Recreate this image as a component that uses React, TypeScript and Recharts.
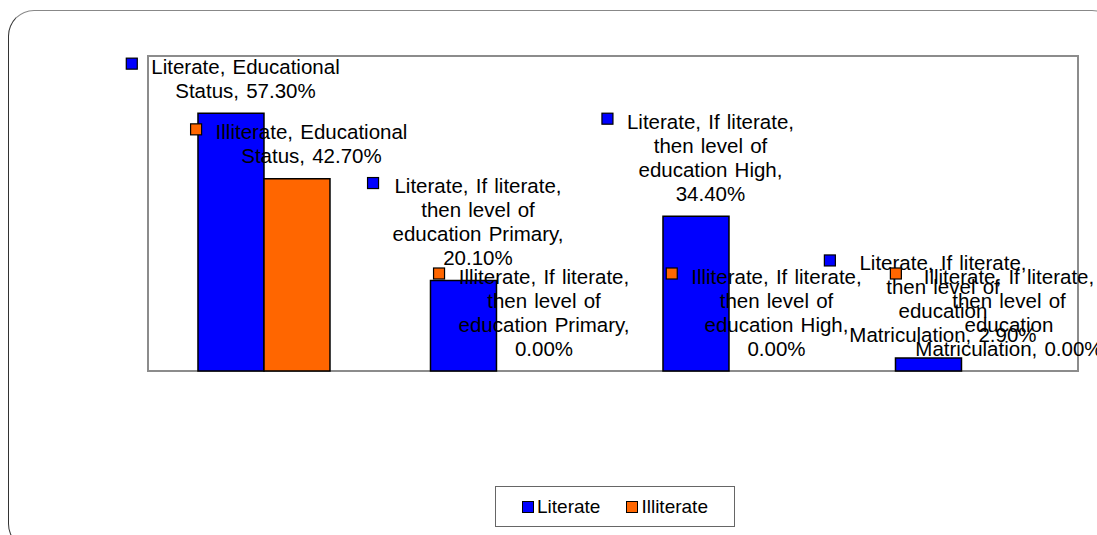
import React from "react";
import { BarChart, Bar, XAxis, YAxis, Legend, ReferenceArea, Rectangle } from "recharts";

const categories = [
  "Educational Status",
  "If literate, then level of education Primary",
  "If literate, then level of education High",
  "If literate, then level of education Matriculation",
];
const literateValues = [57.3, 20.1, 34.4, 2.9];
const illiterateValues = [42.7, 0, 0, 0];

// wrapped label text (value appended to last line)
const literateLabelLines = [
  ["Literate, Educational", "Status, "],
  ["Literate, If literate,", "then level of", "education Primary,", ""],
  ["Literate, If literate,", "then level of", "education High,", ""],
  ["Literate, If literate,", "then level of", "education", "Matriculation, "],
];
const illiterateLabelLines = [
  ["Illiterate, Educational", "Status, "],
  ["Illiterate, If literate,", "then level of", "education Primary,", ""],
  ["Illiterate, If literate,", "then level of", "education High,", ""],
  ["Illiterate, If literate,", "then level of", "education", "Matriculation, "],
];

const BLUE = "#0000FF";
const ORANGE = "#FF6600";
const FONT = '"Liberation Sans", Arial, sans-serif';
const LABEL_SIZE = 20.5;

const data = categories.map((c, i) => ({
  category: c,
  Literate: literateValues[i],
  Illiterate: illiterateValues[i],
}));

let ctx: CanvasRenderingContext2D | null = null;
const measure = (s: string) => {
  if (!ctx) ctx = document.createElement("canvas").getContext("2d");
  if (!ctx) return s.length * 10;
  ctx.font = `${LABEL_SIZE}px ${FONT}`;
  const spaces = (s.match(/ /g) || []).length;
  return ctx.measureText(s).width + spaces * 1.5;
};

const makeLabel = (linesArr: string[][], values: number[], color: string) => (props: any) => {
  const { x, y, width, height, index } = props;
  const value = values[index];
  const prefix = linesArr[index];
  const lines = prefix.map((l, i) =>
    i === prefix.length - 1 ? l + Number(value).toFixed(2) + "%" : l
  );
  const cx = Number(x) + Number(width) / 2 + 2;
  const barTop = value === 0 ? Number(y) + Number(height) : Number(y);
  const maxW = Math.max(...lines.map(measure));
  const key = 11;
  const gap = 14;
  const blockW = key + gap + maxW;
  const left = cx - blockW / 2;
  const textCx = left + key + gap + maxW / 2;
  const n = lines.length;
  const firstY = barTop - 23 - (n - 1) * 24;
  return (
    <g>
      <rect
        x={left}
        y={firstY - 2.5 - key / 2}
        width={key}
        height={key}
        fill={color}
        stroke="#000"
        strokeWidth={1.2}
      />
      {lines.map((l, i) => (
        <text
          key={i}
          x={textCx}
          y={firstY + i * 24}
          textAnchor="middle"
          dominantBaseline="central"
          fontFamily={FONT}
          fontSize={LABEL_SIZE}
          fill="#000"
          style={{ wordSpacing: "1.5px" }}
        >
          {l}
        </text>
      ))}
    </g>
  );
};

const barShape = (props: any) => {
  if (Math.abs(Number(props.height)) < 0.5) return <g />;
  return <Rectangle {...props} />;
};

const LegendBox = () => (
  <div
    style={{
      width: 240,
      height: 41,
      boxSizing: "border-box",
      border: "1.5px solid #666",
      display: "flex",
      alignItems: "center",
      justifyContent: "center",
      fontFamily: FONT,
      fontSize: 19,
      color: "#000",
      background: "#fff",
    }}
  >
    {[
      { name: "Literate", color: BLUE },
      { name: "Illiterate", color: ORANGE },
    ].map((it, i) => (
      <div
        key={it.name}
        style={{ display: "flex", alignItems: "center", marginLeft: i ? 26 : 0 }}
      >
        <div
          style={{
            width: 12,
            height: 12,
            boxSizing: "border-box",
            background: it.color,
            border: "1.5px solid #000",
            marginRight: 3,
          }}
        />
        <span>{it.name}</span>
      </div>
    ))}
  </div>
);

export default function App() {
  return (
    <div
      style={{
        position: "absolute",
        left: 0,
        top: 0,
        width: 1097,
        height: 535,
        overflow: "hidden",
        background: "#fff",
      }}
    >
      <div
        style={{
          position: "absolute",
          left: 8,
          top: 10,
          width: 1110,
          height: 540,
          boxSizing: "border-box",
          border: "1.5px solid #333",
          borderTopColor: "#888",
          borderRadius: 26,
        }}
      />
      <div style={{ position: "absolute", left: 0, top: 0 }}>
        <BarChart
          width={1097}
          height={535}
          data={data}
          margin={{ top: 56, right: 19, bottom: 164, left: 148 }}
          barCategoryGap="21.5%"
          barGap={0}
        >
          <XAxis dataKey="category" hide />
          <YAxis hide domain={[0, 70]} />
          <ReferenceArea
            y1={0}
            y2={70}
            fill="none"
            stroke="#8c8c8c"
            strokeWidth={2}
            ifOverflow="visible"
          />
          <Bar
            dataKey="Literate"
            fill={BLUE}
            stroke="#000"
            strokeWidth={1.5}
            minPointSize={0.01}
            shape={barShape}
            isAnimationActive={false}
            label={makeLabel(literateLabelLines, literateValues, BLUE)}
          />
          <Bar
            dataKey="Illiterate"
            fill={ORANGE}
            stroke="#000"
            strokeWidth={1.5}
            minPointSize={0.01}
            shape={barShape}
            isAnimationActive={false}
            label={makeLabel(illiterateLabelLines, illiterateValues, ORANGE)}
          />
          <Legend
            layout="horizontal"
            verticalAlign="middle"
            align="center"
            content={() => <LegendBox />}
            wrapperStyle={{ left: 495, top: 486, width: 240, height: 41 }}
          />
        </BarChart>
      </div>
    </div>
  );
}
